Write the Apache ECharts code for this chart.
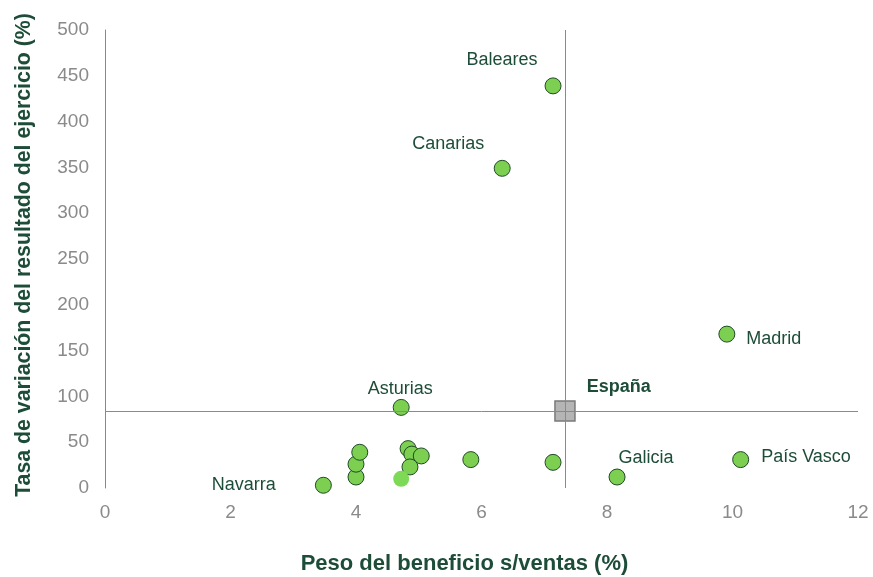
<!DOCTYPE html>
<html><head><meta charset="utf-8">
<script src="https://cdn.jsdelivr.net/npm/echarts@6/dist/echarts.min.js"></script>
<style>html,body{margin:0;padding:0;background:#fff}#c{width:873px;height:577px}</style>
</head><body><div id="c"></div>
<script>
const names = ['Baleares','Canarias','Madrid','Asturias','País Vasco','Galicia','Navarra','','','','','','','','','',''];
const xVals = [7.14, 6.33, 9.91, 4.72, 10.13, 8.16, 3.48, 4.00, 4.00, 4.06, 4.83, 4.89, 5.04, 4.86, 5.83, 7.14, 4.72];
const yVals = [439, 349, 168, 88, 31, 12, 3, 12, 26, 39, 43, 37, 35, 23, 31, 28, 10];
const espana = {name: 'España', x: 7.33, y: 84};
const xTicks = [0, 2, 4, 6, 8, 10, 12];
const yTicks = [0, 50, 100, 150, 200, 250, 300, 350, 400, 450, 500];

const green = '#1d4d38';
const FONT = 'Liberation Sans';
const labelStyle = {
  'Baleares': {position: 'top', offset: [-51, -3]},
  'Canarias': {position: 'top', offset: [-54, -2]},
  'Madrid': {position: 'right', offset: [6, 5]},
  'Asturias': {position: 'top', offset: [-1, 4]},
  'País Vasco': {position: 'right', offset: [7, -3]},
  'Galicia': {position: 'right', offset: [-12, -19]},
  'Navarra': {position: 'left', offset: [-34, 0]}
};
const pts = xVals.map((x, i) => {
  const d = {name: names[i], value: [x, yVals[i]]};
  if (names[i]) {
    d.label = Object.assign({show: true, formatter: '{b}', color: green, fontSize: 18, fontFamily: FONT}, labelStyle[names[i]]);
  }
  if (i === xVals.length - 1) {
    d.itemStyle = {color: '#7ed957', borderWidth: 0};
  }
  return d;
});

const chart = echarts.init(document.getElementById('c'));
chart.setOption({
  animation: false,
  grid: {left: 105, right: 15, top: 30, bottom: 89, containLabel: false, outerBoundsMode: 'none'},
  xAxis: {
    type: 'value', min: xTicks[0], max: xTicks[xTicks.length - 1], interval: xTicks[1] - xTicks[0],
    name: 'Peso del beneficio s/ventas (%)', nameLocation: 'middle', nameGap: 65,
    nameTextStyle: {color: green, fontSize: 22, fontWeight: 'bold', fontFamily: FONT, padding: [0, 34, 0, 0]},
    axisLine: {show: false}, axisTick: {show: false}, splitLine: {show: false},
    axisLabel: {color: '#8a8a8a', fontSize: 19, margin: 15, fontFamily: FONT}
  },
  yAxis: {
    type: 'value', min: yTicks[0], max: yTicks[yTicks.length - 1], interval: yTicks[1] - yTicks[0],
    name: 'Tasa de variación del resultado del ejercicio (%)', nameLocation: 'middle', nameGap: 70,
    nameTextStyle: {color: green, fontSize: 21.3, fontWeight: 'bold', fontFamily: FONT, padding: [0, 0, 0, 8]},
    axisLine: {show: true, lineStyle: {color: '#888', width: 1}}, axisTick: {show: false}, splitLine: {show: false},
    axisLabel: {color: '#8a8a8a', fontSize: 19, margin: 16, fontFamily: FONT}
  },
  series: [
    {
      type: 'scatter', symbol: 'circle', symbolSize: 16, clip: false,
      itemStyle: {color: '#7ccf50', borderColor: '#1f4a26', borderWidth: 1, opacity: 1},
      data: pts,
      z: 3
    },
    {
      type: 'scatter', symbol: 'rect', symbolSize: 20, clip: false,
      itemStyle: {color: '#b5b5b5', borderColor: '#7a7a7a', borderWidth: 1.5, opacity: 1},
      data: [{name: espana.name, value: [espana.x, espana.y]}],
      label: {show: true, formatter: '{b}', position: 'right', offset: [6, -24], color: green, fontSize: 18, fontWeight: 'bold', fontFamily: FONT},
      markLine: {
        silent: true, symbol: ['none', 'none'], animation: false,
        lineStyle: {color: '#8a8a8a', width: 1, type: 'solid', opacity: 1},
        label: {show: false},
        data: [{yAxis: espana.y}, {xAxis: espana.x}]
      },
      z: 4
    }
  ]
});
</script></body></html>
